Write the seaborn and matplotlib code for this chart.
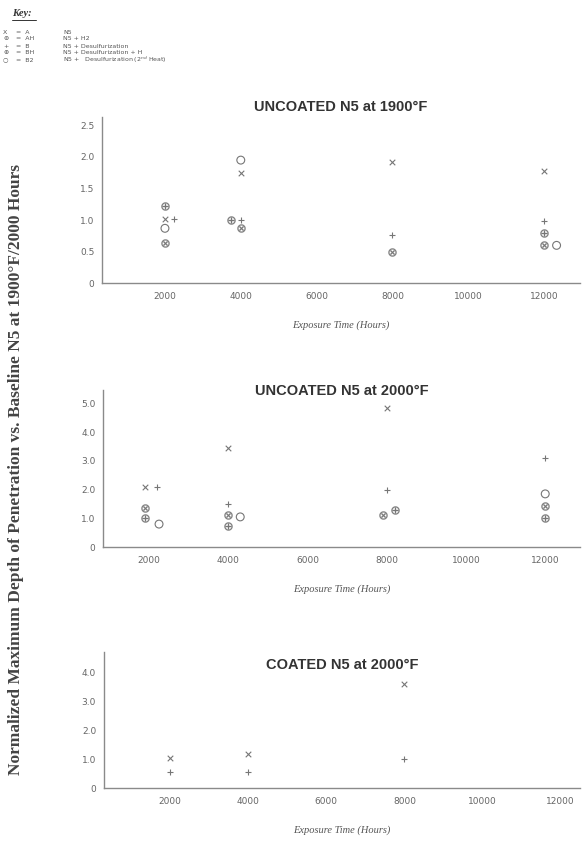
import pandas as pd
import matplotlib.pyplot as plt
import seaborn as sns
from matplotlib.lines import Line2D

# Data (x positions include the small side offsets used in the original)
# --- Uncoated N5 at 1900F ---
u1900_A_hours = [2000, 4000, 8000, 12000]
u1900_A_depth = [1.02, 1.75, 1.92, 1.78]
u1900_AH_hours = [2000, 4000, 8000, 12000]
u1900_AH_depth = [0.64, 0.88, 0.50, 0.60]
u1900_B_hours = [2230, 4000, 8000, 12000]
u1900_B_depth = [1.02, 1.00, 0.76, 0.98]
u1900_BH_hours = [2000, 3750, 12000]
u1900_BH_depth = [1.22, 1.00, 0.80]
u1900_B2_hours = [2000, 4000, 12330]
u1900_B2_depth = [0.87, 1.95, 0.60]

# --- Uncoated N5 at 2000F ---
u2000_A_hours = [1900, 4000, 8000]
u2000_A_depth = [2.10, 3.45, 4.85]
u2000_AH_hours = [1900, 4000, 7900, 12000]
u2000_AH_depth = [1.35, 1.10, 1.10, 1.42]
u2000_B_hours = [2200, 4000, 8000, 12000]
u2000_B_depth = [2.10, 1.50, 2.00, 3.10]
u2000_BH_hours = [1900, 4000, 8200, 12000]
u2000_BH_depth = [1.00, 0.75, 1.30, 1.00]
u2000_B2_hours = [2250, 4300, 12000]
u2000_B2_depth = [0.80, 1.05, 1.85]

# --- Coated N5 at 2000F ---
c2000_A_hours = [2000, 4000, 8000]
c2000_A_depth = [1.03, 1.18, 3.60]
c2000_B_hours = [2000, 4000, 8000]
c2000_B_depth = [0.55, 0.57, 1.00]

panel_titles = ["UNCOATED N5 at 1900°F", "UNCOATED N5 at 2000°F", "COATED N5 at 2000°F"]
x_ticks = [2000, 4000, 6000, 8000, 10000, 12000]
y_ticks = [[0, 0.5, 1.0, 1.5, 2.0, 2.5], [0, 1, 2, 3, 4, 5], [0, 1, 2, 3, 4]]
y_ticklabels = [["0", "0.5", "1.0", "1.5", "2.0", "2.5"],
                ["0", "1.0", "2.0", "3.0", "4.0", "5.0"],
                ["0", "1.0", "2.0", "3.0", "4.0"]]

key_codes = ["A", "AH", "B", "BH", "B2"]
key_symbols = ["X", "⊛", "+", "⊕", "○"]
key_text = ["N5", "N5 + H2", "N5 + Desulfurization", "N5 + Desulfurization + H",
            "N5 +   Desulfurization (2$^{nd}$ Heat)"]

rows = []
for panel, series in [
    (0, {"A": (u1900_A_hours, u1900_A_depth), "AH": (u1900_AH_hours, u1900_AH_depth),
         "B": (u1900_B_hours, u1900_B_depth), "BH": (u1900_BH_hours, u1900_BH_depth),
         "B2": (u1900_B2_hours, u1900_B2_depth)}),
    (1, {"A": (u2000_A_hours, u2000_A_depth), "AH": (u2000_AH_hours, u2000_AH_depth),
         "B": (u2000_B_hours, u2000_B_depth), "BH": (u2000_BH_hours, u2000_BH_depth),
         "B2": (u2000_B2_hours, u2000_B2_depth)}),
    (2, {"A": (c2000_A_hours, c2000_A_depth), "B": (c2000_B_hours, c2000_B_depth)}),
]:
    for code, (hrs, dep) in series.items():
        for h, d in zip(hrs, dep):
            rows.append({"panel": panel, "code": code, "hours": h, "depth": d})
df = pd.DataFrame(rows)

sns.set_style("white")
plt.rcParams["font.family"] = ["DejaVu Sans"]

marker_style = {
    "A": dict(marker="x", s=16, linewidth=0.8),
    "AH": dict(marker="$\\otimes$", s=34, linewidth=0.2),
    "B": dict(marker="+", s=18, linewidth=0.8),
    "BH": dict(marker="$\\oplus$", s=34, linewidth=0.2),
    "B2": dict(marker="o", s=32, linewidth=0.8),
}
gray = "#767676"
axis_gray = "#8a8a8a"

fig = plt.figure(figsize=(5.83, 8.43), dpi=100)
boxes = [(0.175, 0.664, 0.82, 0.197),
         (0.177, 0.351, 0.818, 0.186),
         (0.178, 0.065, 0.817, 0.161)]
xlims = [(340, 12950), (840, 12880), (300, 12500)]
ylims = [(0, 2.63), (0, 5.45), (0, 4.7)]
title_y = [0.985, 0.92, 0.82]

for i, box in enumerate(boxes):
    ax = fig.add_axes(box)
    sub = df[df["panel"] == i]
    for code in key_codes:
        part = sub[sub["code"] == code]
        if part.empty:
            continue
        st = marker_style[code]
        if code == "B2":
            sns.scatterplot(data=part, x="hours", y="depth", ax=ax, marker="o",
                            s=st["s"], facecolor="none", edgecolor=gray, linewidth=st["linewidth"])
        else:
            sns.scatterplot(data=part, x="hours", y="depth", ax=ax, marker=st["marker"],
                            s=st["s"], color=gray, edgecolor=gray, linewidth=st["linewidth"])
    ax.set_xlim(*xlims[i])
    ax.set_ylim(*ylims[i])
    ax.set_xticks(x_ticks)
    ax.set_xticklabels([str(t) for t in x_ticks])
    ax.set_yticks(y_ticks[i])
    ax.set_yticklabels(y_ticklabels[i])
    for side in ["top", "right"]:
        ax.spines[side].set_visible(False)
    for side in ["left", "bottom"]:
        ax.spines[side].set_color(axis_gray)
        ax.spines[side].set_linewidth(1.0)
    ax.tick_params(axis="y", direction="out", length=4, width=0.8, color=axis_gray,
                   labelsize=6.5, labelcolor="#666666", pad=1.5)
    ax.tick_params(axis="x", direction="inout", length=7, width=0.8, color=axis_gray,
                   labelsize=6.5, labelcolor="#666666", pad=3)
    ax.set_ylabel("")
    ax.set_xlabel("Exposure Time (Hours)", family="Liberation Serif", style="italic",
                  fontsize=7.5, color="#555555", labelpad=14)
    ax.set_title(panel_titles[i], family=["Liberation Sans", "DejaVu Sans"],
                 fontweight="bold", fontsize=10.5, color="#333333", y=title_y[i])

fig.text(0.027, 0.443, "Normalized Maximum Depth of Penetration vs. Baseline N5 at 1900°F/2000 Hours",
         rotation=90, ha="center", va="center", family="Liberation Serif",
         fontweight="bold", fontsize=12.5, color="#444444")

# Key block at top-left
fig.text(12 / 583, 1 - 14 / 843, "Key:", family="Liberation Serif", style="italic",
         fontweight="bold", fontsize=7.5, color="#333333", va="center")
fig.add_artist(Line2D([12 / 583, 36 / 583], [1 - 20 / 843, 1 - 20 / 843],
                      color="#333333", linewidth=0.7))
key_rows_y = [32, 39, 46, 53, 60]
for sym, code, txt, yy in zip(key_symbols, key_codes, key_text, key_rows_y):
    fy = 1 - yy / 843
    fig.text(3 / 583, fy, sym, fontsize=4.5, color="#555555", va="center")
    fig.text(16 / 583, fy, "=  " + code, fontsize=4.5, color="#555555", va="center")
    fig.text(63 / 583, fy, txt, fontsize=4.5, color="#555555", va="center")

plt.savefig("out.png", dpi=100)
plt.close()
